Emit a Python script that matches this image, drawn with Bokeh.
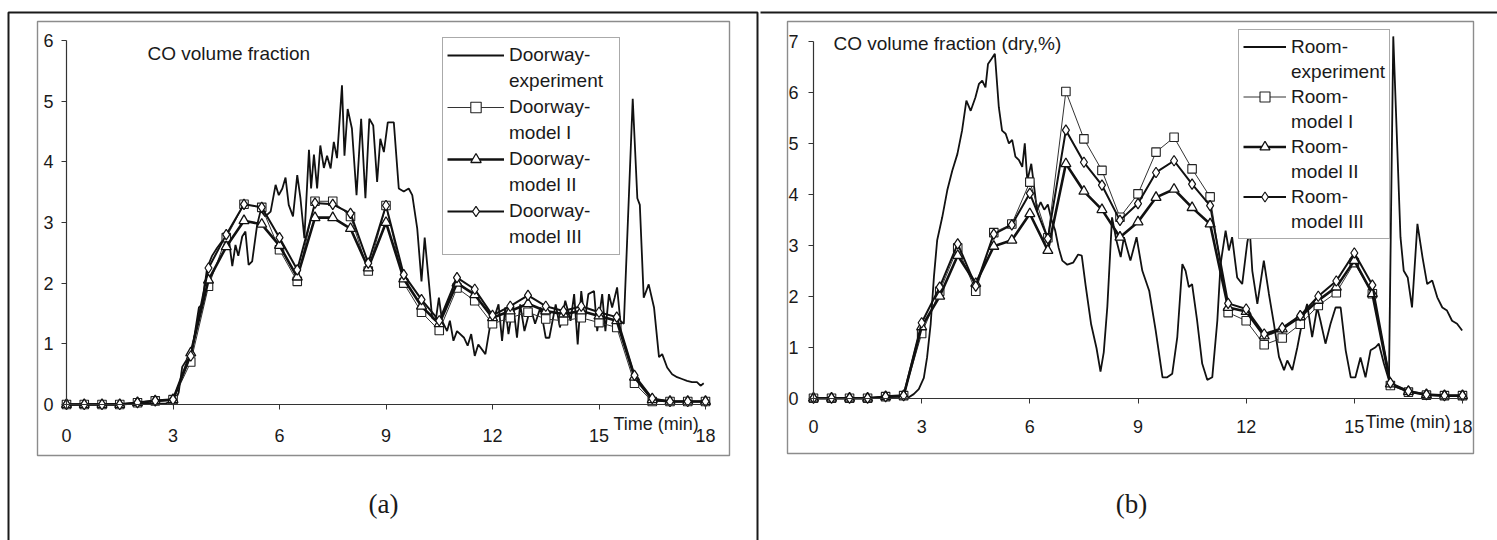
from bokeh.plotting import figure
from bokeh.models import Range1d, FixedTicker, BoxAnnotation, Label, Legend, LegendItem
from bokeh.layouts import row
from bokeh.embed import file_html
from bokeh.resources import INLINE

FONT = "Liberation Sans"
SERIF = "Liberation Serif"
INK = "#1a1a1a"

# ---------------- data ----------------
model_t = [0, 0.5, 1, 1.5, 2, 2.5, 3, 3.5, 4, 4.5, 5, 5.5, 6, 6.5, 7, 7.5, 8, 8.5, 9,
           9.5, 10, 10.5, 11, 11.5, 12, 12.5, 13, 13.5, 14, 14.5, 15, 15.5, 16, 16.5,
           17, 17.5, 18]

# Panel (a): doorway
door_m1 = [0, 0, 0, 0, 0.03, 0.06, 0.08, 0.70, 1.95, 2.75, 3.30, 3.25, 2.55, 2.03, 3.35,
           3.35, 3.10, 2.20, 3.28, 2.00, 1.52, 1.22, 1.92, 1.71, 1.33, 1.43, 1.52, 1.41,
           1.38, 1.43, 1.35, 1.27, 0.35, 0.05, 0.05, 0.05, 0.05]
door_m2 = [0, 0, 0, 0, 0.03, 0.06, 0.08, 0.85, 2.05, 2.60, 3.03, 2.97, 2.62, 2.10, 3.08,
           3.08, 2.90, 2.25, 3.00, 2.07, 1.62, 1.33, 2.00, 1.81, 1.43, 1.54, 1.66, 1.54,
           1.49, 1.54, 1.46, 1.38, 0.45, 0.08, 0.05, 0.05, 0.05]
door_m3 = [0, 0, 0, 0, 0.03, 0.06, 0.08, 0.80, 2.25, 2.80, 3.30, 3.25, 2.75, 2.22, 3.32,
           3.30, 3.15, 2.33, 3.28, 2.14, 1.73, 1.38, 2.09, 1.90, 1.47, 1.62, 1.80, 1.62,
           1.54, 1.62, 1.52, 1.44, 0.48, 0.10, 0.05, 0.05, 0.05]

door_exp_t = [0, 2.8, 3.07, 3.16, 3.26, 3.4, 3.52, 3.73, 3.82, 3.96, 4.1, 4.24, 4.38, 4.57,
              4.67, 4.76, 4.84, 4.95, 5.04, 5.13, 5.23, 5.37, 5.47, 5.6, 5.75, 5.89, 5.98,
              6.08, 6.17, 6.26, 6.38, 6.5, 6.59, 6.7, 6.83, 6.89, 6.97, 7.06, 7.15, 7.25,
              7.34, 7.44, 7.53, 7.62, 7.76, 7.83, 7.92, 8.04, 8.17, 8.3, 8.42, 8.53, 8.64,
              8.75, 8.84, 8.94, 9.05, 9.22, 9.36, 9.5, 9.64, 9.74, 9.88, 10.0, 10.09, 10.21,
              10.3, 10.4, 10.49, 10.58, 10.72, 10.8, 10.9, 11.0, 11.2, 11.3, 11.4, 11.5,
              11.6, 11.8, 11.94, 12.08, 12.17, 12.27, 12.36, 12.45, 12.58, 12.69, 12.78,
              12.9, 13.07, 13.2, 13.35, 13.5, 13.6, 13.78, 13.9, 14.05, 14.2, 14.3, 14.4,
              14.5, 14.6, 14.7, 14.86, 14.95, 15.09, 15.18, 15.28, 15.37, 15.44, 15.51,
              15.6, 15.7, 15.95, 16.08, 16.15, 16.26, 16.4, 16.55, 16.69, 16.78, 16.92,
              17.06, 17.2, 17.34, 17.48, 17.62, 17.76, 17.86, 17.95]
door_exp_v = [0, 0.02, 0.07, 0.2, 0.62, 0.75, 0.82, 1.6, 1.65, 2.25, 2.45, 2.58, 2.69, 2.74,
              2.28, 2.63, 2.45, 2.77, 2.85, 2.3, 2.36, 2.96, 3.2, 3.1, 3.18, 3.62, 3.45,
              3.56, 3.74, 3.29, 3.1, 3.78, 3.4, 2.74, 4.2, 3.56, 4.12, 3.56, 4.27, 3.9,
              4.1, 3.89, 4.33, 4.06, 5.26, 4.1, 4.87, 4.55, 3.45, 4.71, 3.4, 4.71, 4.6,
              3.67, 4.38, 4.16, 4.65, 4.65, 3.56, 3.51, 3.56, 3.45, 2.9, 2.03, 2.75, 2.0,
              1.43, 1.38, 1.76, 1.38, 1.21, 1.38, 1.05, 1.21, 1.1, 0.97, 1.16, 0.8,
              0.99, 0.83, 1.33, 1.49, 1.65, 1.05, 1.6, 1.16, 1.65, 1.1, 1.65,
              1.21, 1.6, 1.33, 1.6, 1.1, 1.1, 1.65, 1.27, 1.71, 1.38, 1.82, 0.99,
              1.87, 1.38, 1.82, 1.87, 1.21, 1.82, 1.21, 1.82, 1.6, 1.76, 1.93,
              1.38, 1.33, 5.04, 3.4, 3.29, 1.76, 1.98, 1.6, 0.78, 0.83, 0.61,
              0.5, 0.45, 0.42, 0.39, 0.37, 0.37, 0.31, 0.35]

# Panel (b): room
room_m1 = [0, 0, 0, 0, 0.03, 0.05, 1.27, 2.10, 2.95, 2.10, 3.25, 3.42, 4.24, 3.15, 6.02,
           5.09, 4.47, 3.55, 4.01, 4.83, 5.12, 4.50, 3.95, 1.68, 1.52, 1.05, 1.18, 1.45,
           1.82, 2.07, 2.66, 2.05, 0.25, 0.12, 0.06, 0.05, 0.05]
room_m2 = [0, 0, 0, 0, 0.03, 0.05, 1.40, 2.00, 2.80, 2.25, 2.98, 3.10, 3.62, 2.90, 4.60,
           4.06, 3.70, 3.16, 3.46, 3.94, 4.10, 3.74, 3.42, 1.78, 1.70, 1.22, 1.36, 1.60,
           1.92, 2.18, 2.70, 2.05, 0.28, 0.13, 0.07, 0.05, 0.05]
room_m3 = [0, 0, 0, 0, 0.03, 0.05, 1.48, 2.18, 3.03, 2.20, 3.22, 3.40, 4.02, 3.13, 5.26,
           4.63, 4.18, 3.49, 3.82, 4.43, 4.66, 4.20, 3.78, 1.86, 1.75, 1.26, 1.38, 1.62,
           2.00, 2.30, 2.85, 2.22, 0.30, 0.14, 0.07, 0.05, 0.05]

room_exp_t = [0, 2.6, 2.78, 2.92, 3.06, 3.15, 3.25, 3.34, 3.43, 3.57, 3.71, 3.85, 3.99, 4.12,
              4.24, 4.36, 4.49, 4.59, 4.68, 4.77, 4.84, 4.94, 5.03, 5.14, 5.23, 5.33, 5.42,
              5.51, 5.6, 5.7, 5.79, 5.86, 5.93, 6.04, 6.11, 6.2, 6.3, 6.4, 6.5, 6.6, 6.7,
              6.8, 6.9, 7.04, 7.2, 7.34, 7.44, 7.55, 7.7, 7.85, 7.96, 8.05, 8.15, 8.28,
              8.4, 8.52, 8.61, 8.79, 8.96, 9.12, 9.31, 9.49, 9.68, 9.81, 9.95, 10.09,
              10.23, 10.32, 10.41, 10.5, 10.64, 10.78, 10.92, 11.06, 11.2, 11.29, 11.43,
              11.52, 11.61, 11.75, 11.89, 12.03, 12.1, 12.17, 12.31, 12.49, 12.63, 12.77,
              12.91, 13.05, 13.14, 13.28, 13.42, 13.56, 13.69, 13.83, 13.97, 14.06, 14.2,
              14.34, 14.48, 14.62, 14.76, 14.9, 15.03, 15.17, 15.31, 15.45, 15.59, 15.68,
              15.82, 15.96, 16.08, 16.28, 16.37, 16.48, 16.6, 16.75, 16.89, 17.02, 17.16,
              17.3, 17.44, 17.57, 17.71, 17.85, 17.99]
room_exp_v = [0, 0.0, 0.08, 0.18, 0.4, 0.8, 1.46, 2.38, 3.1, 3.55, 4.08, 4.47, 4.79, 5.25,
              5.84, 5.64, 5.9, 6.17, 6.23, 6.1, 6.56, 6.66, 6.76, 5.71, 5.25, 5.19, 5.0,
              5.07, 4.74, 4.67, 4.54, 5.0, 4.27, 4.6, 4.2, 3.68, 3.85, 3.7, 3.8, 3.5, 3.3,
              2.95, 2.7, 2.62, 2.66, 2.82, 2.8, 2.2, 1.45, 0.98, 0.52, 0.9, 1.8, 3.55,
              3.1, 2.77, 3.16, 2.7, 3.16, 2.5, 2.11, 1.33, 0.41, 0.41, 0.48, 1.2,
              2.63, 2.5, 2.18, 2.24, 1.52, 0.68, 0.36, 0.41, 1.52, 2.63, 3.29,
              2.9, 3.16, 2.37, 2.24, 3.05, 3.3, 2.5, 1.85, 2.7, 2.05, 1.46,
              0.81, 0.55, 0.74, 0.55, 1.0, 1.52, 1.85, 1.2, 1.78, 1.52, 1.07,
              1.46, 1.78, 1.78, 0.94, 0.41, 0.41, 0.8, 0.41, 0.94, 1.0, 1.07,
              0.68, 0.35, 7.1, 3.16, 2.5, 2.37, 1.78, 3.42, 2.77, 2.24, 2.31,
              1.98, 1.78, 1.72, 1.52, 1.46, 1.33]

x_ticks = [0, 3, 6, 9, 12, 15, 18]
y_ticks_a = [0, 1, 2, 3, 4, 5, 6]
y_ticks_b = [0, 1, 2, 3, 4, 5, 6, 7]


def build(cfg):
    W, H = cfg["W"], cfg["H"]
    # pixel anchors of the data area (x: 0..18, y: 0..ymax)
    px0, px18 = cfg["px"]
    py0, pytop = cfg["py"]
    ymax = cfg["ymax"]
    kx = (px18 - px0) / 18.0
    ky = (py0 - pytop) / float(ymax)

    def X(px):
        return (px - px0) / kx

    def Y(py):
        return (py0 - py) / ky

    p = figure(frame_width=W, frame_height=H, min_border=0,
               x_range=Range1d(X(0), X(W)), y_range=Range1d(Y(H), Y(0)),
               output_backend="svg", toolbar_location=None)
    p.outline_line_color = None
    p.grid.visible = False
    p.background_fill_color = "white"
    p.border_fill_color = "white"

    for ax in (p.xaxis[0], p.yaxis[0]):
        ax.axis_line_color = "#333333"
        ax.axis_line_width = 1.2
        ax.major_tick_line_color = "#333333"
        ax.major_tick_in = 0
        ax.major_tick_out = 5
        ax.minor_tick_line_color = None
        ax.major_label_text_font = FONT
        ax.major_label_text_font_size = "18px"
        ax.major_label_text_color = INK
    p.xaxis[0].fixed_location = 0
    p.xaxis[0].bounds = (0, 18)
    p.xaxis[0].ticker = FixedTicker(ticks=x_ticks)
    p.xaxis[0].major_label_standoff = cfg["xs"]
    p.yaxis[0].fixed_location = 0
    p.yaxis[0].bounds = (0, ymax)
    p.yaxis[0].ticker = FixedTicker(ticks=cfg["yticks"])
    p.yaxis[0].major_label_standoff = cfg["ys"]

    # outer frames (gray chart area, black figure border)
    gl, gr, gt, gb = cfg["gray"]
    p.add_layout(BoxAnnotation(left=X(gl), right=X(gr), top=Y(gt), bottom=Y(gb),
                               fill_alpha=0, line_color="#8c8c8c", line_alpha=1.0,
                               line_width=1.4, level="underlay"))
    kl, kr, kt, kb = cfg["black"]
    p.add_layout(BoxAnnotation(left=X(kl), right=X(kr), top=Y(kt), bottom=Y(kb),
                               fill_alpha=0, line_color="#1a1a1a", line_alpha=1.0,
                               line_width=2, level="underlay"))

    r_exp = p.line(cfg["et"], cfg["ev"], line_color="#111111", line_width=1.8)
    r1l = p.line(model_t, cfg["m1"], line_color="#333333", line_width=1.0)
    r1s = p.scatter(model_t, cfg["m1"], marker="square", size=8.5, fill_color="white",
                    line_color="#222222", line_width=1.1)
    r2l = p.line(model_t, cfg["m2"], line_color="#111111", line_width=2.6)
    r2s = p.scatter(model_t, cfg["m2"], marker="triangle", size=10, fill_color="white",
                    line_color="#111111", line_width=1.3)
    r3l = p.line(model_t, cfg["m3"], line_color="#111111", line_width=2.0)
    r3s = p.scatter(model_t, cfg["m3"], marker="diamond", size=10.5, fill_color="white",
                    line_color="#111111", line_width=1.2)
    blank = p.line([], [], line_alpha=0)

    name = cfg["name"]
    items = [
        LegendItem(label=name + "-", renderers=[r_exp]),
        LegendItem(label="experiment", renderers=[blank]),
        LegendItem(label=name + "-", renderers=[r1l, r1s]),
        LegendItem(label="model I", renderers=[blank]),
        LegendItem(label=name + "-", renderers=[r2l, r2s]),
        LegendItem(label="model II", renderers=[blank]),
        LegendItem(label=name + "-", renderers=[r3l, r3s]),
        LegendItem(label="model III", renderers=[blank]),
    ]
    ll, lr, lt, lb = cfg["leg"]
    pad = 4
    leg = Legend(items=items, location=(ll, H - lb), padding=pad, spacing=0, margin=0,
                 glyph_width=cfg["gw"], glyph_height=cfg["ih"], label_standoff=5,
                 label_width=(lr - ll) - 2 * pad - cfg["gw"] - 5, label_height=cfg["ih"],
                 label_text_font=FONT, label_text_font_size="19px",
                 label_text_color=INK,
                 border_line_color="#555555", border_line_width=1,
                 background_fill_color="white", background_fill_alpha=1.0)
    p.add_layout(leg)

    tx, ty = cfg["title_px"]
    p.add_layout(Label(x=X(tx), y=Y(ty), text=cfg["title"],
                       text_baseline="middle", text_font=FONT, text_font_size="19px",
                       text_color=INK))
    mx, my = cfg["time_px"]
    p.add_layout(Label(x=X(mx), y=Y(my), text="Time (min)",
                       text_baseline="middle", text_font=FONT, text_font_size="18px",
                       text_color=INK))
    cx, cy = cfg["cap_px"]
    p.add_layout(Label(x=X(cx), y=Y(cy), text=cfg["caption"], text_align="center",
                       text_baseline="middle", text_font=SERIF, text_font_size="27px",
                       text_color=INK))
    return p


# layout parameters are in pixels of each panel's canvas
cfg_a = dict(W=760, H=540, px=(66, 705), py=(404, 40), ymax=6, yticks=y_ticks_a,
             xs=19, ys=8, et=door_exp_t, ev=door_exp_v, m1=door_m1, m2=door_m2, m3=door_m3,
             name="Doorway", leg=(442, 618, 39, 255), gw=57, ih=26,
             title="CO volume fraction", title_px=(147, 53), time_px=(613, 423),
             caption="(a)", cap_px=(383, 503), gray=(37, 729, 21, 455),
             black=(8, 757, 12, 700))
cfg_b = dict(W=737, H=540, px=(53, 702), py=(397.7, 41), ymax=7, yticks=y_ticks_b,
             xs=17, ys=10, et=room_exp_t, ev=room_exp_v, m1=room_m1, m2=room_m2, m3=room_m3,
             name="Room", leg=(478, 626, 31, 239), gw=43, ih=25,
             title="CO volume fraction (dry,%)", title_px=(73, 42.7),
             time_px=(605, 421.7), caption="(b)", cap_px=(371, 503),
             gray=(27, 713, 21, 453), black=(-40, 900, 12, 700))

fa = build(cfg_a)
fb = build(cfg_b)
layout = row(fa, fb)

open("out.html", "w").write(file_html(layout, INLINE))
